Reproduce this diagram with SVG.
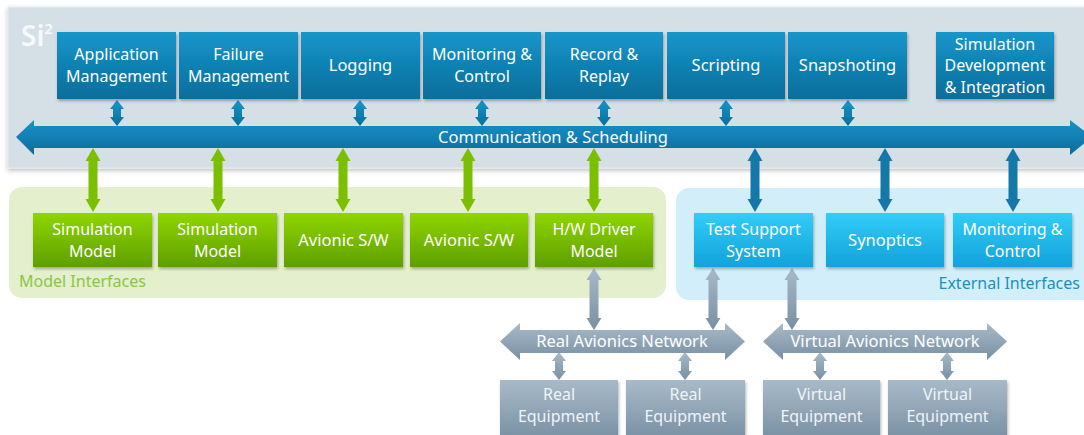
<svg xmlns="http://www.w3.org/2000/svg" xmlns:xlink="http://www.w3.org/1999/xlink" width="1084" height="435" viewBox="0 0 1084 435">
  <defs>
    <linearGradient id="gBlue" x1="0" y1="0" x2="0" y2="1">
      <stop offset="0" stop-color="#1596ca"/>
      <stop offset="1" stop-color="#0b6d9b"/>
    </linearGradient>
    <linearGradient id="gBus" x1="0" y1="0" x2="0" y2="1">
      <stop offset="0" stop-color="#1b8fc3"/>
      <stop offset="0.5" stop-color="#1280b4"/>
      <stop offset="1" stop-color="#0c6a98"/>
    </linearGradient>
    <linearGradient id="gGreen" x1="0" y1="0" x2="0" y2="1">
      <stop offset="0" stop-color="#8fd600"/>
      <stop offset="1" stop-color="#5f9f00"/>
    </linearGradient>
    <linearGradient id="gCyan" x1="0" y1="0" x2="0" y2="1">
      <stop offset="0" stop-color="#32cdf7"/>
      <stop offset="1" stop-color="#12a2da"/>
    </linearGradient>
    <linearGradient id="gGray" x1="0" y1="0" x2="0" y2="1">
      <stop offset="0" stop-color="#a8bac8"/>
      <stop offset="1" stop-color="#7890a3"/>
    </linearGradient>
    <filter id="shadow" x="-10%" y="-10%" width="120%" height="130%">
      <feDropShadow dx="1" dy="2" stdDeviation="1.5" flood-color="#000" flood-opacity="0.3"/>
    </filter>
    <filter id="soft" x="-5%" y="-5%" width="110%" height="120%">
      <feDropShadow dx="0" dy="2" stdDeviation="2" flood-color="#000" flood-opacity="0.25"/>
    </filter>
    <!-- double-headed vertical arrows, drawn from y=0 downward -->
    <path id="dblShort" d="M0,0 L7,9 L4,9 L4,17 L7,17 L0,26 L-7,17 L-4,17 L-4,9 L-7,9 Z"/>
    <path id="dblLong" d="M0,0 L7.5,13 L4.5,13 L4.5,51 L7.5,51 L0,64 L-7.5,51 L-4.5,51 L-4.5,13 L-7.5,13 Z"/>
    <path id="dblGray" d="M0,0 L7.5,12 L4.5,12 L4.5,50 L7.5,50 L0,62 L-7.5,50 L-4.5,50 L-4.5,12 L-7.5,12 Z"/>
    <path id="dblEq" d="M0,0 L7,9 L4,9 L4,19 L7,19 L0,28 L-7,19 L-4,19 L-4,9 L-7,9 Z"/>
    <style>
      text { font-family: "Noto Sans", "Open Sans", "DejaVu Sans", sans-serif; font-size: 16px; fill: #ffffff; text-anchor: middle; }
      .one { font-size: 16.5px; }
      .blue { fill: url(#gBlue); filter: url(#shadow); }
      .green { fill: url(#gGreen); filter: url(#shadow); }
      .cyan { fill: url(#gCyan); filter: url(#shadow); }
      .gray { fill: url(#gGray); filter: url(#shadow); }
      .grayTxt { fill: #f0f4f7; }
      .panelLbl { font-size: 16px; text-anchor: start; }
      .aBlue { fill: url(#gBlue); }
      .aGreen { fill: #7cbf00; }
      .aDark { fill: #1478aa; }
      .aGray { fill: url(#gGray); }
    </style>
  </defs>

  <!-- background panels -->
  <g id="si2-panel">
    <rect x="8" y="7" width="1080" height="161" fill="#d5dfe6" stroke="#e4ebf0" stroke-width="1" filter="url(#soft)"/>
    <text x="21" y="46" style="font-size:28px;font-weight:600;text-anchor:start;fill:#f7fafc">Si<tspan dy="-12" style="font-size:15px">2</tspan></text>
  </g>
  <g id="model-interfaces">
    <rect x="9" y="187" width="657" height="111" rx="13" fill="#e3efcd"/>
    <text class="panelLbl" x="19" y="287" style="fill:#8cc63f">Model Interfaces</text>
  </g>
  <g id="external-interfaces">
    <rect x="676" y="188" width="420" height="112" rx="13" fill="#d2eff9"/>
    <text class="panelLbl" x="1080" y="289" style="fill:#1a8fc0;text-anchor:end">External Interfaces</text>
  </g>

  <!-- connectors -->
  <g id="connectors">
    <use href="#dblShort" class="aBlue" x="117" y="100"/>
    <use href="#dblShort" class="aBlue" x="238" y="100"/>
    <use href="#dblShort" class="aBlue" x="360" y="100"/>
    <use href="#dblShort" class="aBlue" x="482" y="100"/>
    <use href="#dblShort" class="aBlue" x="604" y="100"/>
    <use href="#dblShort" class="aBlue" x="726" y="100"/>
    <use href="#dblShort" class="aBlue" x="848" y="100"/>

    <use href="#dblLong" class="aGreen" x="93" y="148"/>
    <use href="#dblLong" class="aGreen" x="218" y="148"/>
    <use href="#dblLong" class="aGreen" x="343" y="148"/>
    <use href="#dblLong" class="aGreen" x="468" y="148"/>
    <use href="#dblLong" class="aGreen" x="594" y="148"/>

    <use href="#dblLong" class="aDark" x="755" y="148"/>
    <use href="#dblLong" class="aDark" x="885" y="148"/>
    <use href="#dblLong" class="aDark" x="1013" y="148"/>

    <use href="#dblGray" class="aGray" x="594" y="268"/>
    <use href="#dblGray" class="aGray" x="713" y="268"/>
    <use href="#dblGray" class="aGray" x="792" y="268"/>

    <use href="#dblEq" class="aGray" x="559" y="352"/>
    <use href="#dblEq" class="aGray" x="685" y="352"/>
    <use href="#dblEq" class="aGray" x="820" y="352"/>
    <use href="#dblEq" class="aGray" x="947" y="352"/>
  </g>

  <!-- buses -->
  <g id="bus-comm">
    <path d="M16,137 L34,120 L34,126 L1070,126 L1070,120 L1092,137 L1070,155 L1070,148 L34,148 L34,155 Z" fill="url(#gBus)"/>
    <text class="one" x="553" y="142.5">Communication &amp; Scheduling</text>
  </g>
  <g id="bus-real">
    <path d="M500,341.5 L520,323 L520,330 L725,330 L725,323 L745,341.5 L725,360 L725,353 L520,353 L520,360 Z" fill="url(#gGray)"/>
    <text class="one" x="622" y="346.5">Real Avionics Network</text>
  </g>
  <g id="bus-virtual">
    <path d="M763,341.5 L783,323 L783,330 L987,330 L987,323 L1007,341.5 L987,360 L987,353 L783,353 L783,360 Z" fill="url(#gGray)"/>
    <text class="one" x="885" y="346.5">Virtual Avionics Network</text>
  </g>

  <!-- Si2 services -->
  <g id="app-mgmt">
    <rect class="blue" x="57" y="32" width="119" height="67"/>
    <text x="116.5" y="60">Application</text>
    <text x="116.5" y="82">Management</text>
  </g>
  <g id="failure-mgmt">
    <rect class="blue" x="179" y="32" width="119" height="67"/>
    <text x="238.5" y="60">Failure</text>
    <text x="238.5" y="82">Management</text>
  </g>
  <g id="logging">
    <rect class="blue" x="301" y="32" width="119" height="67"/>
    <text class="one" x="360.5" y="71">Logging</text>
  </g>
  <g id="monitoring">
    <rect class="blue" x="423" y="32" width="118" height="67"/>
    <text x="482" y="60">Monitoring &amp;</text>
    <text x="482" y="82">Control</text>
  </g>
  <g id="record-replay">
    <rect class="blue" x="545" y="32" width="118" height="67"/>
    <text x="604" y="60">Record &amp;</text>
    <text x="604" y="82">Replay</text>
  </g>
  <g id="scripting">
    <rect class="blue" x="667" y="32" width="118" height="67"/>
    <text class="one" x="726" y="71">Scripting</text>
  </g>
  <g id="snapshoting">
    <rect class="blue" x="788" y="32" width="119" height="67"/>
    <text class="one" x="847.5" y="71">Snapshoting</text>
  </g>
  <g id="sim-dev">
    <rect class="blue" x="936" y="32" width="118" height="67"/>
    <text x="995" y="49.5">Simulation</text>
    <text x="995" y="71">Development</text>
    <text x="995" y="92.5">&amp; Integration</text>
  </g>

  <!-- model interfaces -->
  <g id="sim-model-1">
    <rect class="green" x="33" y="213" width="119" height="54"/>
    <text x="92.5" y="235">Simulation</text>
    <text x="92.5" y="257">Model</text>
  </g>
  <g id="sim-model-2">
    <rect class="green" x="158" y="213" width="119" height="54"/>
    <text x="217.5" y="235">Simulation</text>
    <text x="217.5" y="257">Model</text>
  </g>
  <g id="avionic-sw-1">
    <rect class="green" x="284" y="213" width="119" height="54"/>
    <text class="one" x="343.5" y="246">Avionic S/W</text>
  </g>
  <g id="avionic-sw-2">
    <rect class="green" x="410" y="213" width="118" height="54"/>
    <text class="one" x="469" y="246">Avionic S/W</text>
  </g>
  <g id="hw-driver">
    <rect class="green" x="535" y="213" width="118" height="54"/>
    <text x="594" y="235">H/W Driver</text>
    <text x="594" y="257">Model</text>
  </g>

  <!-- external interfaces -->
  <g id="test-support">
    <rect class="cyan" x="694" y="213" width="119" height="54"/>
    <text x="753.5" y="235">Test Support</text>
    <text x="753.5" y="257">System</text>
  </g>
  <g id="synoptics">
    <rect class="cyan" x="826" y="213" width="118" height="54"/>
    <text class="one" x="885" y="246">Synoptics</text>
  </g>
  <g id="ext-monitoring">
    <rect class="cyan" x="953" y="213" width="119" height="54"/>
    <text x="1012.5" y="235">Monitoring &amp;</text>
    <text x="1012.5" y="257">Control</text>
  </g>

  <!-- equipment -->
  <g id="real-eq-1">
    <rect class="gray" x="500" y="380" width="118" height="60"/>
    <text class="grayTxt" x="559" y="400">Real</text>
    <text class="grayTxt" x="559" y="422">Equipment</text>
  </g>
  <g id="real-eq-2">
    <rect class="gray" x="626" y="380" width="119" height="60"/>
    <text class="grayTxt" x="685.5" y="400">Real</text>
    <text class="grayTxt" x="685.5" y="422">Equipment</text>
  </g>
  <g id="virtual-eq-1">
    <rect class="gray" x="763" y="380" width="117" height="60"/>
    <text class="grayTxt" x="821.5" y="400">Virtual</text>
    <text class="grayTxt" x="821.5" y="422">Equipment</text>
  </g>
  <g id="virtual-eq-2">
    <rect class="gray" x="888" y="380" width="119" height="60"/>
    <text class="grayTxt" x="947.5" y="400">Virtual</text>
    <text class="grayTxt" x="947.5" y="422">Equipment</text>
  </g>
</svg>
